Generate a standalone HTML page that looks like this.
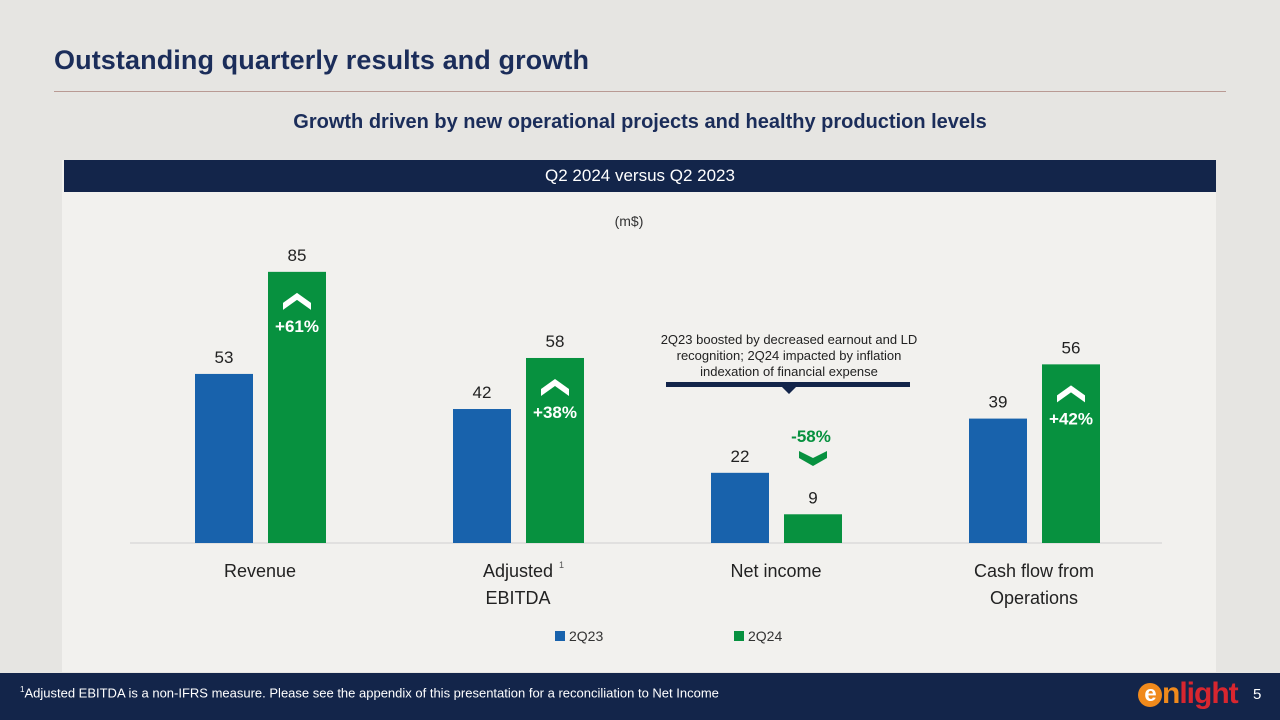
<!DOCTYPE html>
<html><head><meta charset="utf-8"><style>
body{margin:0;width:1280px;height:720px;overflow:hidden;background:#e6e5e2;font-family:"Liberation Sans",sans-serif;position:relative}
.abs{position:absolute}
</style></head><body>
<div class="abs" style="left:54px;top:45px;font-size:27px;font-weight:bold;color:#1b2d5a;letter-spacing:0.1px">Outstanding quarterly results and growth</div>
<div class="abs" style="left:54px;top:91px;width:1172px;height:1px;background:#b99a94"></div>
<div class="abs" style="left:0;width:1280px;text-align:center;top:111px;font-size:20px;font-weight:bold;color:#1b2d5a">Growth driven by new operational projects and healthy production levels</div>
<div class="abs" style="left:62px;top:160px;width:1154px;height:512px;background:#f2f1ee"></div>
<div class="abs" style="left:64px;top:160px;width:1152px;height:32px;background:#13254a;color:#fff;font-size:17px;text-align:center;line-height:32px">Q2 2024 versus Q2 2023</div>
<svg class="abs" style="left:0;top:0" width="1280" height="720">
<g id="g"></g>
</svg>
<div class="abs" style="left:0;top:673px;width:1280px;height:47px;background:#13254a"></div>
<div class="abs" style="left:20px;top:685px;font-size:13px;color:#fff"><sup style="font-size:8px">1</sup>Adjusted EBITDA is a non-IFRS measure. Please see the appendix of this presentation for a reconciliation to Net Income</div>
<div class="abs" style="left:1138px;top:677px;font-size:30px;font-weight:bold;color:#d8262f;letter-spacing:-1px"><span style="display:inline-block;width:24px;height:24px;border-radius:12px;background:#f08a1c;color:#fff;font-size:22px;text-align:center;line-height:22px;vertical-align:2px">e</span><span style="color:#f08a1c">n</span>light</div>
<div class="abs" style="left:1253px;top:686px;font-size:15px;color:#fff">5</div>
<script>
const categories=["Revenue","Adjusted EBITDA","Net income","Cash flow from Operations"];
const labels1=[["Revenue"],["Adjusted","EBITDA"],["Net income"],["Cash flow from","Operations"]];
const q23=[53,42,22,39];
const q24=[85,58,9,56];
const changes=["+61%","+38%","-58%","+42%"];
const NS="http://www.w3.org/2000/svg",g=document.getElementById('g');
const base=543,k=3.19,y=v=>base-v*k,x0=195,step=258,bw=58;
function el(t,a,txt){const e=document.createElementNS(NS,t);for(const n in a)e.setAttribute(n,a[n]);if(txt!=null)e.textContent=txt;g.appendChild(e);return e;}
let ax=el('line',{x1:130,x2:1162,y1:base,y2:base,stroke:'#d0d0d0','stroke-width':1});

let u=el('text',{x:629,y:226,'font-size':14,fill:'#333','text-anchor':'middle'},'(m$)');

categories.forEach((c,i)=>{
 const bx=x0+i*step,gx=bx+73;
 let b=el('rect',{x:bx,y:y(q23[i]),width:bw,height:q23[i]*k,fill:'#1862ac'});
 
 let b2=el('rect',{x:gx,y:y(q24[i]),width:bw,height:q24[i]*k,fill:'#07913f'});
 
 let t1=el('text',{x:bx+bw/2,y:y(q23[i])-11,'font-size':17,fill:'#222','text-anchor':'middle'},q23[i]);
 
 let t2=el('text',{x:gx+bw/2,y:y(q24[i])-11,'font-size':17,fill:'#222','text-anchor':'middle'},q24[i]);
 
 const cx=gx+bw/2,neg=changes[i][0]=='-';
 let ch,ar;
 if(!neg){
  const ty=y(q24[i]);
  ar=el('path',{d:`M${cx-14} ${ty+38} L${cx} ${ty+28} L${cx+14} ${ty+38} L${cx+14} ${ty+31} L${cx} ${ty+21} L${cx-14} ${ty+31}Z`,fill:'#fff'});
  ch=el('text',{x:cx,y:ty+60,'font-size':17,'font-weight':'bold',fill:'#fff','text-anchor':'middle'},changes[i]);
 } else {
  ch=el('text',{x:cx-2,y:442,'font-size':17,'font-weight':'bold',fill:'#07913f','text-anchor':'middle'},changes[i]);
  ar=el('path',{d:`M${cx-14} 451 L${cx} 458 L${cx+14} 451 L${cx+14} 458 L${cx} 466 L${cx-14} 458Z`,fill:'#07913f'});
 }
 
 
 labels1[i].forEach((l,j)=>{
  let t=el('text',{x:bx+65,y:577+j*27,'font-size':18,fill:'#222','text-anchor':'middle'},l);
  
 });
});
let sup=el('text',{x:559,y:568,'font-size':9,fill:'#555'},'1');

["2Q23 boosted by decreased earnout and LD","recognition; 2Q24 impacted by inflation","indexation of financial expense"].forEach((l,j)=>{
 let t=el('text',{x:789,y:344+j*16,'font-size':13,fill:'#222','text-anchor':'middle'},l);
 
});
let br=el('path',{d:'M666 382 L910 382 L910 387 L796 387 L789 394 L782 387 L666 387Z',fill:'#13254a'});

[["2Q23",555,'#1862ac'],["2Q24",734,'#07913f']].forEach((l,i)=>{
 let r=el('rect',{x:l[1],y:631,width:10,height:10,fill:l[2]});
 
 let t=el('text',{x:l[1]+14,y:641,'font-size':14,fill:'#333'},l[0]);
 
});
</script>
</body></html>
